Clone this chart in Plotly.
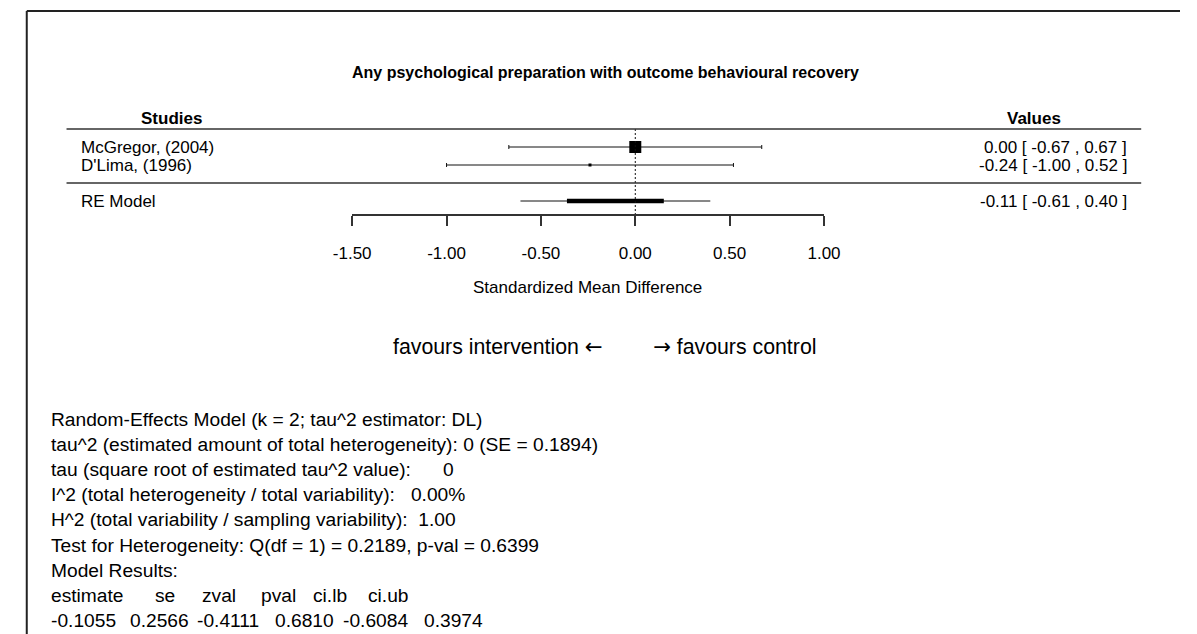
import plotly.graph_objects as go

# ---------------- data ----------------
studies = ["McGregor, (2004)", "D'Lima, (1996)"]
study_est = [0.00, -0.24]
study_lo = [-0.67, -1.00]
study_hi = [0.67, 0.52]
study_marker_size = [12, 3]

re_label = "RE Model"
re_est = -0.1055
re_se = 0.2566
re_lo = -0.6084
re_hi = 0.3974

axis_ticks = [-1.5, -1.0, -0.5, 0.0, 0.5, 1.0]

title = "Any psychological preparation with outcome behavioural recovery"
col_headers = ["Studies", "Values"]
x_title = "Standardized Mean Difference"
favours_left = "favours intervention"
favours_right = "favours control"
arrow_left = "\u2190"
arrow_right = "\u2192"

summary_lines = [
    "Random-Effects Model (k = 2; tau^2 estimator: DL)",
    "tau^2 (estimated amount of total heterogeneity): 0 (SE = 0.1894)",
    "tau (square root of estimated tau^2 value):      0",
    "I^2 (total heterogeneity / total variability):   0.00%",
    "H^2 (total variability / sampling variability):  1.00",
    "Test for Heterogeneity: Q(df = 1) = 0.2189, p-val = 0.6399",
    "Model Results:",
]
result_names = ["estimate", "se", "zval", "pval", "ci.lb", "ci.ub"]
result_values = ["-0.1055", "0.2566", "-0.4111", "0.6810", "-0.6084", "0.3974"]

# ---------------- layout constants (pixels) ----------------
W, H = 1197, 634
FONT = "Liberation Sans, Arial, sans-serif"
ARROW_FONT = "DejaVu Sans"
INK = "#111111"
X0_PX, X1_PX = 343.5, 830.0      # pixel extent of axis -1.5 .. 1.0
row_y = [147, 165]
re_y = 201
head_y = 118
hline_y = [129, 183]
axis_y = 215
xtitle_y = 287
favours_y = 346
summary_y0 = 419
summary_dy = 25.2
label_x = 62
block_x = 31
value_right_x = 1144
name_cols_x = [31, 138, 187, 247, 301, 358]
value_cols_x = [31, 112, 181, 262, 332, 415]


def px(x):
    return x / W


fig = go.Figure()

# study CIs with caps + squares
for i, name in enumerate(studies):
    fig.add_trace(go.Scatter(
        x=[study_est[i]], y=[row_y[i]], mode="markers",
        marker=dict(symbol="square", size=study_marker_size[i], color="black",
                    line=dict(width=0)),
        error_x=dict(type="data", symmetric=False,
                     array=[study_hi[i] - study_est[i]],
                     arrayminus=[study_est[i] - study_lo[i]],
                     color=INK, thickness=1, width=2),
        showlegend=False, hoverinfo="skip", cliponaxis=False))

# RE model: thin CI line and thick +-SE bar
fig.add_trace(go.Scatter(
    x=[re_lo, re_hi], y=[re_y, re_y], mode="lines",
    line=dict(color=INK, width=1), showlegend=False, hoverinfo="skip"))
fig.add_trace(go.Scatter(
    x=[re_est - re_se, re_est + re_se], y=[re_y, re_y], mode="lines",
    line=dict(color="black", width=4.5), showlegend=False, hoverinfo="skip"))

# reference dotted line at 0
fig.add_trace(go.Scatter(
    x=[0, 0], y=[hline_y[0], axis_y], mode="lines",
    line=dict(color=INK, width=1, dash="2px,2px"), showlegend=False, hoverinfo="skip"))

shapes = []
for yy in hline_y:
    shapes.append(dict(type="line", xref="paper", yref="y", x0=px(49), x1=px(1157),
                       y0=yy, y1=yy, line=dict(color="#333333", width=1.5)))
# outer frame (top & left)
shapes.append(dict(type="line", xref="paper", yref="paper", x0=px(8), x1=1,
                   y0=1 - 11 / H, y1=1 - 11 / H, line=dict(color="#222222", width=2)))
shapes.append(dict(type="line", xref="paper", yref="paper", x0=px(8), x1=px(8),
                   y0=1 - 11 / H, y1=0, line=dict(color="#222222", width=2)))

ann = []


def text(x, y, s, size, anchor="left", bold=False):
    ann.append(dict(xref="paper", yref="y", x=px(x), y=y, text=("<b>%s</b>" % s) if bold else s,
                    showarrow=False, xanchor=anchor, yanchor="middle",
                    font=dict(family=FONT, size=size, color="black")))


text(605, 72, title, 16, "center", bold=True)
text(157, head_y, col_headers[0], 17, "center", bold=True)
text(1046, head_y, col_headers[1], 17, "center", bold=True)
for i, name in enumerate(studies):
    text(label_x, row_y[i], name, 17)
    text(value_right_x, row_y[i], "%.2f [ %.2f , %.2f ]" % (study_est[i], study_lo[i], study_hi[i]),
         17, "right")
text(label_x, re_y, re_label, 17)
text(value_right_x, re_y, "%.2f [ %.2f , %.2f ]" % (re_est, re_lo, re_hi), 17, "right")
text(586, xtitle_y, x_title, 17, "center")
arrow_span = '<span style="font-family:%s">%s</span>'
text(604, favours_y, favours_left + " " + arrow_span % (ARROW_FONT, arrow_left), 21.3, "right")
text(652, favours_y, arrow_span % (ARROW_FONT, arrow_right) + " " + favours_right, 21.3, "left")

nb = "\u00a0"
BLOCK_SIZE = 19.2
for i, s in enumerate(summary_lines):
    text(block_x, summary_y0 + i * summary_dy, s.replace(" ", nb), BLOCK_SIZE)
n = len(summary_lines)
for j in range(len(result_names)):
    text(name_cols_x[j], summary_y0 + n * summary_dy, result_names[j], BLOCK_SIZE)
    text(value_cols_x[j], summary_y0 + (n + 1) * summary_dy, result_values[j], BLOCK_SIZE)

fig.update_layout(
    width=W, height=H, margin=dict(l=0, r=0, t=0, b=0),
    paper_bgcolor="white", plot_bgcolor="rgba(0,0,0,0)",
    shapes=shapes, annotations=ann, showlegend=False,
    xaxis=dict(domain=[px(X0_PX), px(X1_PX)], range=[-1.5, 1.0],
               anchor="free", position=1 - axis_y / H,
               showline=True, linecolor="#333333", linewidth=1.5,
               ticks="outside", ticklen=10, tickwidth=1.5, tickcolor="#333333",
               tickvals=axis_ticks, ticktext=["%.2f" % t for t in axis_ticks],
               tickfont=dict(family=FONT, size=17, color="black"),
               ticklabelstandoff=13,
               showgrid=False, zeroline=False, fixedrange=True),
    yaxis=dict(domain=[0, 1], range=[H, 0], visible=False, fixedrange=True),
)

fig.write_html("out.html", config={"displayModeBar": False},
               post_script="document.body.style.margin='0';document.body.style.overflow='hidden';")
